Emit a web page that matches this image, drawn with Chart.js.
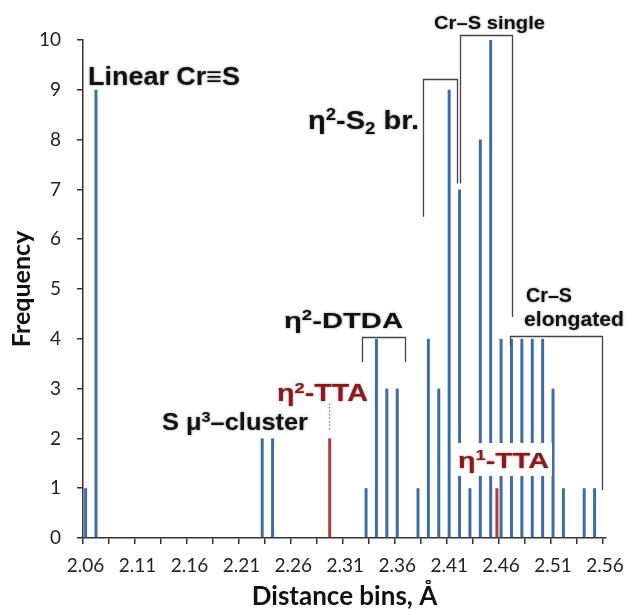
<!DOCTYPE html>
<html><head><meta charset="utf-8">
<script src="https://cdn.jsdelivr.net/npm/chart.js@4"></script>
<style>html,body{margin:0;padding:0;background:#fff}</style>
</head><body>
<canvas id="c" width="628" height="610"></canvas>
<script>
// ---- data ----
const blueBins = [2.06,2.07,2.23,2.24,2.33,2.34,2.35,2.36,2.38,2.39,2.40,2.41,2.42,2.43,2.44,2.45,2.46,2.47,2.48,2.49,2.50,2.51,2.52,2.54,2.55];
const blueFreq = [1,9,2,2,1,4,3,3,1,4,3,9,7,1,8,10,4,4,4,4,4,3,1,1,1];
const ttaBins = [2.295,2.456];
const ttaFreq = [2,1];
const xTickLabels = ['2.06','2.11','2.16','2.21','2.26','2.31','2.36','2.41','2.46','2.51','2.56'];
const yMax = 10;

const BLUE = '#3d6ca6', RED = '#b23c3c', DARKRED = '#8c1a1a';

// draw bold text made of segments (super/subscripts), fitted to a target width
function drawRich(ctx, segs, left, right, base, size, color) {
  const fam = '"Liberation Sans", Arial, sans-serif';
  const fontFor = s => 'bold ' + (s.sup||s.sub ? size*0.64 : size) + 'px ' + fam;
  let w = 0;
  segs.forEach(s => { ctx.font = fontFor(s); w += ctx.measureText(s.t).width; });
  const sx = (right - left) / w;
  ctx.save();
  ctx.translate(left, base);
  ctx.scale(sx, 1);
  ctx.fillStyle = color;
  ctx.textBaseline = 'alphabetic';
  ctx.textAlign = 'left';
  let cx = 0;
  segs.forEach(s => {
    ctx.font = fontFor(s);
    const dy = s.sup ? -size*0.36 : (s.sub ? size*0.2 : 0);
    ctx.fillText(s.t, cx, dy);
    cx += ctx.measureText(s.t).width;
  });
  ctx.restore();
}

const annot = {
  id: 'annot',
  afterDatasetsDraw(chart) {
    const {ctx, scales: {x, y}} = chart;
    const X = v => x.getPixelForValue(v), Y = v => y.getPixelForValue(v);
    ctx.save();
    // group brackets (in data units)
    const brackets = [
      {x0: 2.3848, x1: 2.4178, top: 9.21, y0: 6.45, y1: 7.12},
      {x0: 2.4200, x1: 2.4705, top: 10.1, y0: 7.12, y1: 4.44},
      {x0: 2.3265, x1: 2.3673, top: 4.04, y0: 3.53, y1: 3.53},
      {x0: 2.4688, x1: 2.5574, top: 4.06, y0: 3.86, y1: 0.96}
    ];
    ctx.strokeStyle = '#444'; ctx.lineWidth = 1.3;
    brackets.forEach(b => {
      ctx.beginPath();
      ctx.moveTo(Math.round(X(b.x0))+0.5, Y(b.y0));
      ctx.lineTo(Math.round(X(b.x0))+0.5, Math.round(Y(b.top))+0.5);
      ctx.lineTo(Math.round(X(b.x1))+0.5, Math.round(Y(b.top))+0.5);
      ctx.lineTo(Math.round(X(b.x1))+0.5, Y(b.y1));
      ctx.stroke();
    });
    // dotted connector for eta2-TTA
    ctx.strokeStyle = RED; ctx.lineWidth = 1; ctx.setLineDash([1.5, 2]);
    ctx.beginPath(); ctx.moveTo(X(ttaBins[0]), Y(2.7)); ctx.lineTo(X(ttaBins[0]), Y(2.15)); ctx.stroke();
    ctx.setLineDash([]);
    // white box behind eta1-TTA
    ctx.fillStyle = '#fff';
    ctx.fillRect(456, 443, 96, 33);

    ctx.shadowColor = 'rgba(0,0,0,0.45)'; ctx.shadowBlur = 2.5;
    drawRich(ctx, [{t:'Linear Cr\u2261S'}], 88, 240, 85, 25, '#111');
    drawRich(ctx, [{t:'\u03B7'},{t:'2',sup:true},{t:'-S'},{t:'2',sub:true},{t:' br.'}], 308, 419, 129, 25, '#111');
    drawRich(ctx, [{t:'Cr\u2013S single'}], 434, 545, 29, 19, '#111');
    drawRich(ctx, [{t:'\u03B7'},{t:'2',sup:true},{t:'-DTDA'}], 284, 403, 328, 22, '#111');
    drawRich(ctx, [{t:'S \u03BC'},{t:'3',sup:true},{t:'\u2013cluster'}], 162, 308, 430, 23, '#111');
    drawRich(ctx, [{t:'Cr\u2013S'}], 526, 572, 302, 21, '#111');
    drawRich(ctx, [{t:'elongated'}], 524, 624, 326, 21, '#111');
    drawRich(ctx, [{t:'\u03B7'},{t:'2',sup:true},{t:'-TTA'}], 277, 368, 401, 23, DARKRED);
    drawRich(ctx, [{t:'\u03B7'},{t:'1',sup:true},{t:'-TTA'}], 458, 549, 468, 22, DARKRED);
    ctx.restore();
  }
};

// tick marks at bin boundaries (every 0.025), labels at every 0.05
const xTickVals = xTickLabels.flatMap((l, i) => i < xTickLabels.length - 1 ? [parseFloat(l), parseFloat(l) + 0.025] : [parseFloat(l)]).map(v => v - 0.0025);
const FONT = 'Lato, "Open Sans", sans-serif';

new Chart(document.getElementById('c'), {
  type: 'bar',
  data: {
    datasets: [
      {label: 'Cr–S', data: blueBins.map((b, i) => ({x: b, y: blueFreq[i]})), backgroundColor: BLUE, maxBarThickness: 3.3, grouped: false},
      {label: 'TTA', data: ttaBins.map((b, i) => ({x: b, y: ttaFreq[i]})), backgroundColor: RED, maxBarThickness: 3.3, grouped: false}
    ]
  },
  options: {
    responsive: false, animation: false,
    layout: {padding: {top: 40, right: 22, left: 0, bottom: 0}},
    plugins: {legend: {display: false}, tooltip: {enabled: false}},
    scales: {
      x: {
        type: 'linear', min: 2.0575, max: 2.561, offset: false,
        afterBuildTicks: s => { s.ticks = xTickVals.map(v => ({value: v})); },
        afterFit: s => { s.height = 72; s.paddingLeft = 0; s.paddingRight = 0; },
        ticks: {
          autoSkip: false, maxRotation: 0, minRotation: 0, labelOffset: 2.6, padding: 10,
          color: '#222', font: {family: FONT, size: 19},
          callback: (v, i) => i % 2 === 0 ? xTickLabels[i / 2] : ''
        },
        grid: {display: true, drawOnChartArea: false, drawTicks: true, tickLength: 6, color: '#333', lineWidth: 1.5, offset: false},
        border: {display: true, color: '#333', width: 1.5},
        title: {display: true, text: 'Distance bins, Å', color: '#111', font: {family: FONT, size: 26, weight: 'bold', lineHeight: 1.0}, padding: {top: 0, bottom: 0}}
      },
      y: {
        min: 0, max: yMax,
        afterFit: s => { s.width = 83; s.paddingTop = 0; s.paddingBottom = 0; },
        ticks: {stepSize: 1, padding: 16, color: '#222', font: {family: FONT, size: 19}},
        grid: {display: true, drawOnChartArea: false, drawTicks: true, tickLength: 6, color: '#333', lineWidth: 1.5},
        border: {display: true, color: '#333', width: 1.5},
        title: {display: true, text: 'Frequency', color: '#111', font: {family: FONT, size: 25, weight: 'bold'}, padding: {top: 7, bottom: 0}}
      }
    }
  },
  plugins: [annot]
});
</script>
</body></html>
